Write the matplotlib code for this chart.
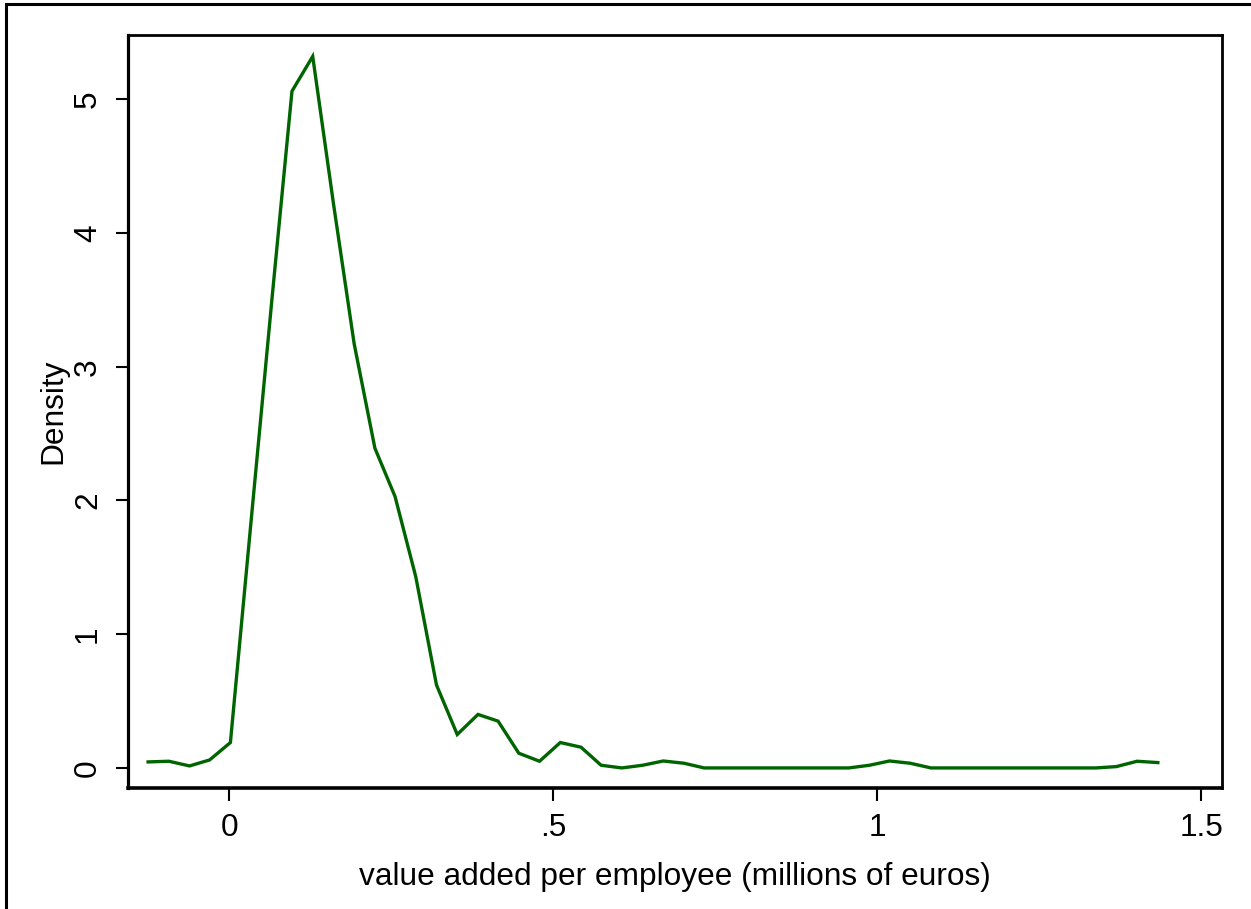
import matplotlib
matplotlib.use("Agg")
import matplotlib.pyplot as plt
from matplotlib.patches import Rectangle

plt.rcParams['font.family'] = ['Liberation Sans', 'DejaVu Sans']

# kernel density grid (millions of euros)
x_vals = [-0.125, -0.093, -0.061, -0.030, 0.002, 0.034, 0.066, 0.097, 0.129, 0.161,
          0.193, 0.225, 0.256, 0.288, 0.320, 0.352, 0.384, 0.415, 0.447, 0.479,
          0.511, 0.543, 0.574, 0.606, 0.638, 0.670, 0.702, 0.733, 0.765, 0.797,
          0.829, 0.861, 0.892, 0.924, 0.956, 0.988, 1.019, 1.051, 1.083, 1.115,
          1.147, 1.178, 1.210, 1.242, 1.274, 1.306, 1.337, 1.369, 1.401, 1.433]
density = [0.045, 0.050, 0.015, 0.060, 0.190, 1.850, 3.500, 5.060, 5.320, 4.220,
           3.170, 2.390, 2.030, 1.430, 0.620, 0.250, 0.400, 0.350, 0.110, 0.050,
           0.190, 0.155, 0.020, 0.000, 0.020, 0.052, 0.035, 0.000, 0.000, 0.000,
           0.000, 0.000, 0.000, 0.000, 0.000, 0.020, 0.052, 0.035, 0.000, 0.000,
           0.000, 0.000, 0.000, 0.000, 0.000, 0.000, 0.000, 0.010, 0.050, 0.040]

x_ticks = [0, 0.5, 1, 1.5]
x_ticklabels = ['0', '.5', '1', '1.5']
y_ticks = [0, 1, 2, 3, 4, 5]
y_ticklabels = ['0', '1', '2', '3', '4', '5']

W, H = 1251, 909
fig = plt.figure(figsize=(W / 100, H / 100), dpi=100)
ax = fig.add_axes([128 / W, 1 - 788 / H, (1222 - 128) / W, (788 - 35) / H])

ax.plot(x_vals, density, color='#006400', lw=2.4, solid_joinstyle='miter')

ax.set_xlim(-0.156, 1.532)
ax.set_ylim(-0.15, 5.48)
ax.set_xticks(x_ticks)
ax.set_xticklabels(x_ticklabels)
ax.set_yticks(y_ticks)
ax.set_yticklabels(y_ticklabels, rotation=90, va='center')

ax.tick_params(axis='both', direction='out', length=9, width=1.5, labelsize=22.8,
               colors='black', pad=9)
for side in ['left', 'bottom', 'top', 'right']:
    ax.spines[side].set_linewidth(2.0)
    ax.spines[side].set_color('black')
ax.spines['bottom'].set_linewidth(2.6)
ax.spines['left'].set_linewidth(2.3)

ax.set_xlabel('value added per employee (millions of euros)', fontsize=22.8, labelpad=14)
ax.set_ylabel('Density', fontsize=22.8, labelpad=3.5)

# outer frame
fig.add_artist(Rectangle((6 / W, -0.05), 1.2, (1 - 4 / H) + 0.05, transform=fig.transFigure,
                         fill=False, edgecolor='black', lw=2.2))

fig.savefig('out.png', dpi=100, facecolor='white')
